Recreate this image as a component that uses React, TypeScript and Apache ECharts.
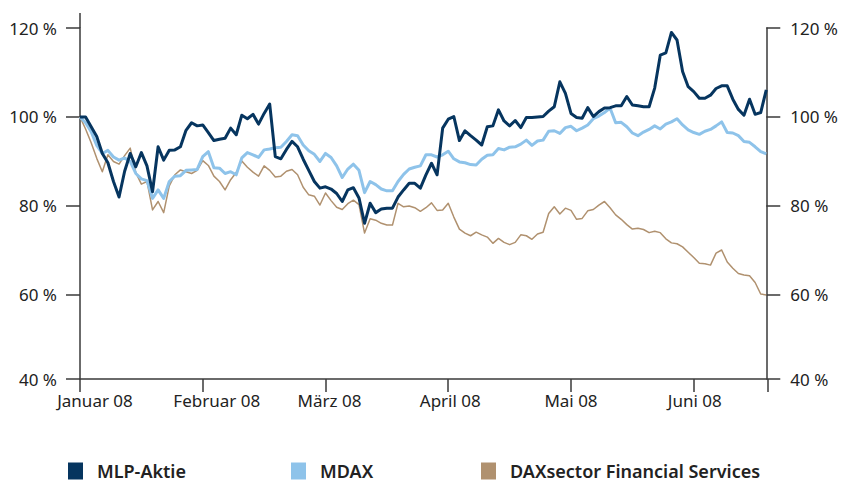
import { useEffect, useRef } from 'react';
import * as echarts from 'echarts';

const monthLabels = ['Januar 08', 'Februar 08', 'März 08', 'April 08', 'Mai 08', 'Juni 08'];
const pointsPerMonth = 22;
const seriesNames = ['MLP-Aktie', 'MDAX', 'DAXsector Financial Services'];
const yTickLabels = [40, 60, 80, 100, 120];

const mlpValues = [
  100, 100, 97.8, 95.6, 91.8, 89.7, 85.5, 82, 87.8, 91.8,
  88.8, 92, 89, 83.2, 93.3, 90.3, 92.5, 92.6, 93.3, 97,
  98.7, 98, 98.2, 96.5, 94.7, 95, 95.2, 97.5, 96, 100.4,
  99.6, 100.6, 98.4, 100.8, 102.9, 91.1, 90.6, 92.7, 94.5, 93.3,
  90.5, 88, 85.5, 84, 84.3, 83.8, 82.8, 81, 83.6, 84.1,
  81.8, 76.1, 80.6, 78.5, 79.3, 79.5, 79.5, 82, 83.6, 85.1,
  85.1, 84, 87, 89.6, 87, 97.5, 99.5, 100.1, 94.7, 96.9,
  95.8, 94.8, 93.7, 97.8, 98, 101.6, 99.1, 98, 99.2, 97.6,
  99.9, 99.9, 100, 100.1, 101.3, 102.3, 107.9, 105.3, 100.8, 99.9,
  99.7, 102.1, 100.1, 101.2, 102, 102.1, 102.5, 102.5, 104.6, 102.7,
  102.5, 102.3, 102.3, 106.5, 113.9, 114.4, 119, 117.3, 110.2, 106.8,
  105.7, 104.2, 104.2, 104.9, 106.4, 107, 107, 104, 101.7, 100.4,
  104, 100.6, 101, 106.1,
];

const mdaxValues = [
  100, 98.7, 96.7, 93.6, 91.8, 92.5, 91, 90.3, 90.8, 90,
  87.3, 86.1, 85.7, 81.7, 83.6, 81.7, 85.5, 86.7, 86.8, 88,
  88.1, 88.2, 91.1, 92.2, 88.6, 88.5, 87.3, 87.7, 87, 90.8,
  92, 91.5, 90.9, 92.6, 92.8, 93.1, 93.2, 94.5, 96, 95.8,
  93.7, 92.4, 91.6, 90, 91.8, 90.9, 89, 86.4, 88.3, 89.4,
  88, 83, 85.5, 84.8, 83.8, 83.4, 83.4, 85.5, 87.1, 88.3,
  88.7, 89, 91.5, 91.5, 91, 91.5, 92.3, 90.6, 89.9, 89.7,
  89.3, 89.2, 90.5, 91.4, 91.5, 92.9, 92.6, 93.2, 93.3, 93.9,
  94.8, 93.6, 94.6, 94.8, 96.8, 96.9, 96.3, 97.6, 97.9, 96.9,
  97.5, 98.2, 99.6, 100.2, 101, 102, 98.7, 98.8, 97.8, 96.4,
  95.8, 96.6, 97.2, 98, 97.3, 98.4, 98.9, 99.6, 98.2, 97.1,
  96.5, 96.1, 96.8, 97.2, 98, 98.9, 96.5, 96.4, 95.8, 94.5,
  94.3, 93.3, 92.2, 91.7,
];

const daxValues = [
  100, 97.3, 94.2, 90.7, 87.7, 91.5, 90, 89.4, 91.3, 93,
  87.5, 84.9, 85.5, 79.1, 81, 78.5, 84.5, 87, 88.1, 87.7,
  87.3, 88, 90.2, 89.1, 86.7, 85.5, 83.6, 85.9, 87.5, 90.1,
  88.7, 87.6, 86.7, 89, 88, 86.5, 86.7, 87.8, 88.2, 87,
  84.2, 82.5, 82.2, 80.2, 82.9, 81.2, 79.7, 79.2, 80.5, 81.3,
  80.3, 73.9, 77.1, 76.8, 76.1, 75.7, 75.7, 80.6, 79.8, 80,
  79.6, 78.8, 79.6, 80.7, 79, 79.1, 80.6, 77.5, 74.8, 73.9,
  73.3, 74.1, 73.5, 73, 71.6, 72.7, 71.8, 71.3, 71.8, 73.5,
  73.3, 72.5, 73.7, 74.1, 78.3, 79.8, 78.2, 79.5, 79, 77,
  77.2, 78.9, 79.2, 80.2, 81, 79.6, 78, 77, 75.8, 74.8,
  75, 74.7, 74, 74.3, 74, 72.6, 71.7, 71.5, 70.8, 69.6,
  68.4, 67.1, 67, 66.7, 69.4, 70.1, 67.4, 66, 64.8, 64.5,
  64.3, 62.8, 60.2, 60,
];

const seriesColors = ['#06355f', '#8ec3ea', '#b0916f'];
const seriesWidths = [3, 3, 1.5];

export default function App() {
  const ref = useRef<HTMLDivElement>(null);

  useEffect(() => {
    document.body.style.margin = '0';
    const chart = echarts.init(ref.current as HTMLDivElement, null, { renderer: 'svg' });
    const font = 'Noto Sans';
    const axisColor = '#3a3a3a';
    const textColor = '#222';
    const lastIndex = mlpValues.length - 1;
    const toPairs = (arr: number[]) => arr.map((v, i) => [i, v]);

    const yAxisBase = (position: 'left' | 'right', margin: number) => ({
      type: 'value',
      position,
      min: 41.1,
      max: 120,
      splitNumber: 4,
      axisLine: { show: true, lineStyle: { color: axisColor, width: 1.5 } },
      axisTick: { show: true, length: 14, lineStyle: { color: axisColor, width: 1.5 } },
      splitLine: { show: false },
      axisLabel: {
        margin,
        fontFamily: font,
        fontSize: 17,
        color: textColor,
        formatter: (v: number) => `${v < 50 ? yTickLabels[0] : Math.round(v)} %`,
      },
    });

    const richMonths: Record<string, any> = {};
    const pads = [30, 28, 8, 4, 0, 2];
    monthLabels.forEach((_, m) => {
      richMonths['m' + m] = {
        fontFamily: font,
        fontSize: 17,
        color: textColor,
        padding: [0, 0, 0, pads[m]],
      };
    });

    const data = [mlpValues, mdaxValues, daxValues];

    chart.setOption({
      animation: false,
      grid: { left: 80, right: 73, top: 28, bottom: 105, containLabel: false },
      xAxis: {
        type: 'value',
        min: 0,
        max: lastIndex,
        interval: pointsPerMonth,
        axisLine: { show: true, onZero: false, lineStyle: { color: axisColor, width: 1.5 } },
        axisTick: { show: true, length: 13, lineStyle: { color: axisColor, width: 1.5 } },
        splitLine: { show: false },
        axisLabel: {
          margin: 13,
          fontFamily: font,
          fontSize: 17,
          color: textColor,
          showMaxLabel: false,
          formatter: (v: number) => {
            const m = v / pointsPerMonth;
            if (Number.isInteger(m) && m < monthLabels.length) return `{m${m}|${monthLabels[m]}}`;
            return '';
          },
          rich: richMonths,
        },
      },
      yAxis: [yAxisBase('left', 23), yAxisBase('right', 24)],
      legend: seriesNames.map((name, k) => ({
        data: [name],
        left: [68, 291, 481][k],
        top: 462,
        padding: 0,
        itemWidth: 15,
        itemHeight: 17,
        icon: 'rect',
        selectedMode: false,
        textStyle: {
          fontFamily: font,
          fontSize: 18,
          lineHeight: 18,
          fontWeight: 600,
          color: textColor,
          padding: [0, 0, 0, 9],
        },
      })),
      graphic: [
        {
          type: 'line',
          shape: { x1: 80, y1: 13, x2: 80, y2: 28 },
          style: { stroke: axisColor, lineWidth: 1.5 },
        },
        {
          type: 'line',
          shape: { x1: 768, y1: 379, x2: 768, y2: 392 },
          style: { stroke: axisColor, lineWidth: 1.5 },
        },
      ],
      series: seriesNames.map((name, k) => ({
        name,
        type: 'line',
        data: toPairs(data[k]),
        showSymbol: false,
        symbol: 'rect',
        color: seriesColors[k],
        lineStyle: { width: seriesWidths[k], color: seriesColors[k], join: 'round' },
        z: 3 - k,
      })),
    });

    return () => chart.dispose();
  }, []);

  return <div ref={ref} style={{ width: 841, height: 484 }} />;
}
